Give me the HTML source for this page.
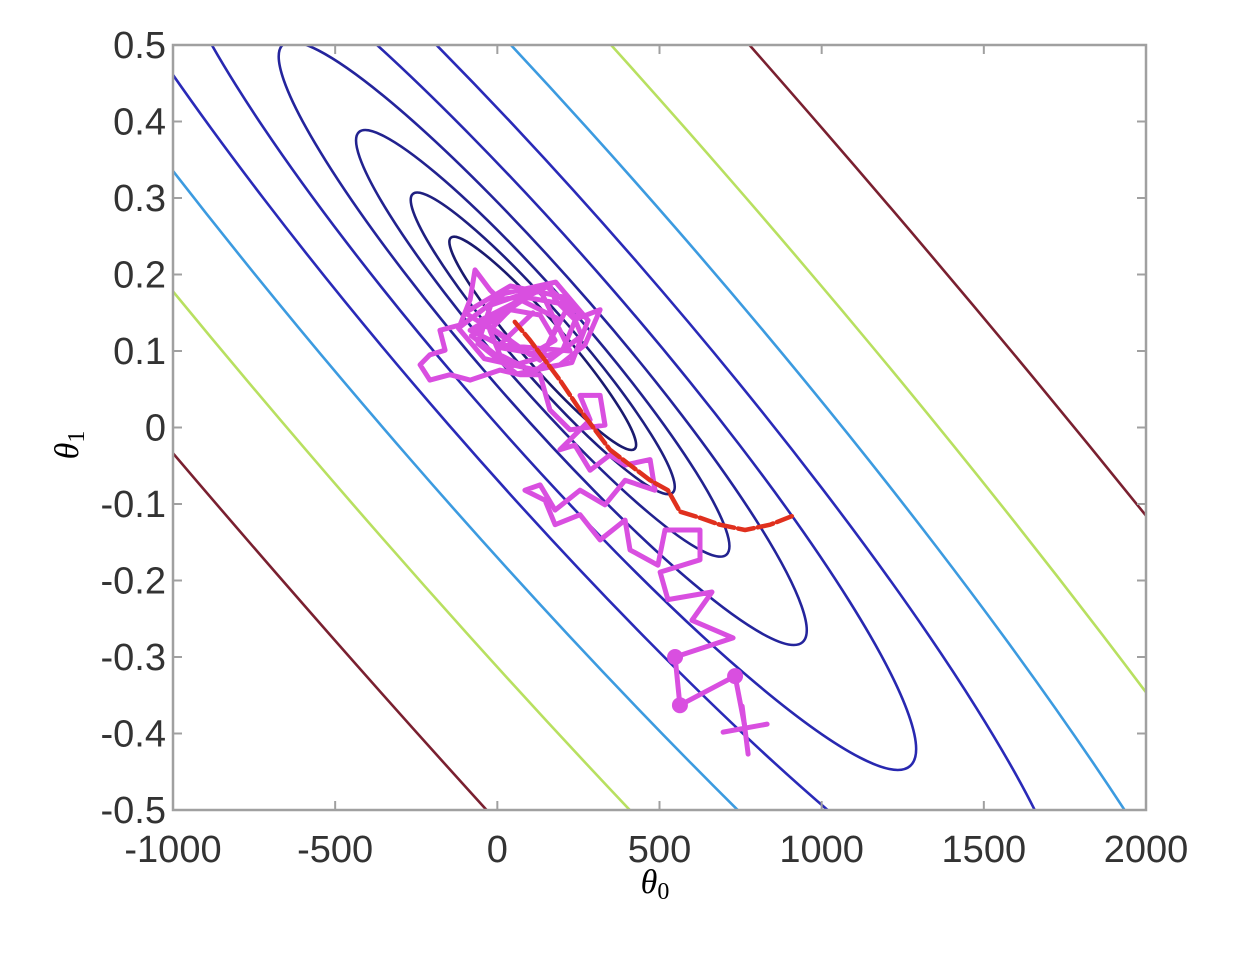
<!DOCTYPE html>
<html><head><meta charset="utf-8"><style>
html,body{margin:0;padding:0;background:#fff;overflow:hidden;width:1256px;height:954px;}
svg{display:block;}
svg text{font-family:"Liberation Sans",sans-serif;}
</style></head><body>
<svg id="chart" width="1256" height="954" viewBox="0 0 1256 954" xmlns="http://www.w3.org/2000/svg">
<defs><clipPath id="plotclip"><rect x="173" y="45" width="973" height="765"/></clipPath></defs>
<rect x="0" y="0" width="1256" height="954" fill="#fff"/>
<g id="contours" clip-path="url(#plotclip)"></g>
<g id="paths" clip-path="url(#plotclip)"></g>
<rect x="173" y="45" width="973" height="765" fill="none" stroke="#a0a0a0" stroke-width="2.5"/>
<g id="axes"></g>
<text x="655" y="893" font-size="34" font-style="italic" text-anchor="middle" style="font-family:'Liberation Serif',serif">θ<tspan font-size="24" dy="6" font-style="normal">0</tspan></text>
<text transform="translate(78,445) rotate(-90)" font-size="34" font-style="italic" text-anchor="middle" style="font-family:'Liberation Serif',serif">θ<tspan font-size="24" dy="6" font-style="normal">1</tspan></text>
</svg>
<script>
const xTicks = [-1000, -500, 0, 500, 1000, 1500, 2000];
const yTicks = [0.5, 0.4, 0.3, 0.2, 0.1, 0, -0.1, -0.2, -0.3, -0.4, -0.5];
const yTickLabels = ["0.5","0.4","0.3","0.2","0.1","0","-0.1","-0.2","-0.3","-0.4","-0.5"];
const contourLevels = [1, 2, 4, 8, 16, 32, 64, 128, 256];
const contourColors = ["#1a1a6e","#1f1f80","#22228f","#24249c","#2828b0","#2a2ab8","#3c9be0","#b8e060","#7a2030"];
const costCenter = [140, 0.11];
const sgdTheta0 = [764,733,563,548,727,600,662,526,502,625,625,517,495,409,394,317,255,178,147,85,132,178,255,332,394,486,471,394,347,286,239,193,286,255,317,332,224,162,132,70,8,-84,-146,-208,-238,-208,-161,-177,-115,-84,-69,-23,8,101,162,178,239,317,270,193,101,8,-23,39,132,178,101,39,-53,132,224,8,-84,70,193,132,-100,40,210,260,120,-40,-120,20,180,280,230,60,-60,-20,150,250,200,40,-80,90,220,140,0,110];
const sgdTheta1 = [-0.393,-0.325,-0.363,-0.300,-0.275,-0.252,-0.215,-0.225,-0.189,-0.173,-0.134,-0.134,-0.180,-0.160,-0.121,-0.147,-0.114,-0.127,-0.095,-0.082,-0.075,-0.108,-0.082,-0.101,-0.069,-0.082,-0.042,-0.049,-0.036,-0.056,-0.023,-0.029,0.010,0.042,0.042,0.003,-0.003,0.023,0.069,0.069,0.075,0.062,0.069,0.062,0.082,0.095,0.101,0.127,0.134,0.167,0.206,0.180,0.167,0.173,0.186,0.167,0.141,0.154,0.108,0.082,0.075,0.095,0.127,0.154,0.147,0.114,0.095,0.114,0.140,0.180,0.100,0.108,0.127,0.167,0.141,0.088,0.150,0.185,0.170,0.120,0.075,0.090,0.130,0.175,0.190,0.140,0.085,0.070,0.110,0.160,0.185,0.150,0.100,0.080,0.120,0.170,0.160,0.095,0.105,0.150];
const gdTheta0 = [908,841,764,686,625,563,526,471,409,347,301,255,193,147,101,54];
const gdTheta1 = [-0.116,-0.127,-0.134,-0.127,-0.118,-0.110,-0.082,-0.069,-0.049,-0.029,-0.003,0.023,0.062,0.088,0.114,0.138];

const NS="http://www.w3.org/2000/svg";
const X0=173,X1=1146,Y0=45,Y1=810;
function xs(v){return X0+(v+1000)/3000*(X1-X0);}
function ys(v){return Y0+(0.5-v)*(Y1-Y0);}
function mk(tag,attrs,parent){const e=document.createElementNS(NS,tag);for(const k in attrs)e.setAttribute(k,attrs[k]);parent.appendChild(e);return e;}

const cg=document.getElementById('contours');
const cx=xs(costCenter[0]), cy=ys(costCenter[1]);
const majorUnit=140, minorUnit=22, angle=49;
contourLevels.forEach((lv,i)=>{
  const s=Math.sqrt(lv);
  const e=mk('ellipse',{cx:cx,cy:cy,rx:majorUnit*s,ry:minorUnit*s,transform:`rotate(${angle} ${cx} ${cy})`,fill:'none',stroke:contourColors[i],'stroke-width':2.6},cg);
  
  
});

const ax=document.getElementById('axes');
xTicks.forEach((t,i)=>{
  const x=xs(t);
  const l1=mk('line',{x1:x,y1:Y1,x2:x,y2:Y1-9,stroke:'#a0a0a0','stroke-width':2},ax);
  
  
  const l2=mk('line',{x1:x,y1:Y0,x2:x,y2:Y0+9,stroke:'#a0a0a0','stroke-width':2},ax);
  
  
  const tx=mk('text',{x:x,y:862,'font-size':38,'text-anchor':'middle',fill:'#333'},ax);
  tx.textContent=String(t);
  
  
});
yTicks.forEach((t,i)=>{
  const y=ys(t);
  const l1=mk('line',{x1:X0,y1:y,x2:X0+9,y2:y,stroke:'#a0a0a0','stroke-width':2},ax);
  
  
  const l2=mk('line',{x1:X1,y1:y,x2:X1-9,y2:y,stroke:'#a0a0a0','stroke-width':2},ax);
  
  
  const tx=mk('text',{x:166,y:y+13,'font-size':38,'text-anchor':'end',fill:'#333'},ax);
  tx.textContent=yTickLabels[i];
  
  
});

const pg=document.getElementById('paths');
const sgdPts=sgdTheta0.map((v,i)=>xs(v).toFixed(1)+','+ys(sgdTheta1[i]).toFixed(1)).join(' ');
const sgd=mk('polyline',{points:sgdPts,fill:'none',stroke:'#d94fe0','stroke-width':5,'stroke-linejoin':'round','stroke-linecap':'round'},pg);


[1,2,3].forEach(i=>{
  const d=mk('circle',{cx:xs(sgdTheta0[i]),cy:ys(sgdTheta1[i]),r:8,fill:'#d94fe0'},pg);
  
  
});
const sx=xs(sgdTheta0[0]), sy=ys(sgdTheta1[0]);
const star=mk('path',{d:`M${sx-22},${sy+4} L${sx+22},${sy-4} M${sx-3},${sy-22} L${sx+3},${sy+26}`,stroke:'#d94fe0','stroke-width':5,'stroke-linecap':'round'},pg);


const gdPts=gdTheta0.map((v,i)=>xs(v).toFixed(1)+','+ys(gdTheta1[i]).toFixed(1)).join(' ');
const gd=mk('polyline',{points:gdPts,fill:'none',stroke:'#e0301e','stroke-width':4.5,'stroke-dasharray':'16 4','stroke-linejoin':'round','stroke-linecap':'round'},pg);


</script>
</body></html>
